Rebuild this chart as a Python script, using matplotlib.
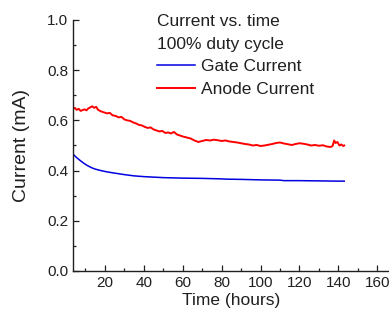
import matplotlib
matplotlib.use("Agg")
import matplotlib.pyplot as plt
from matplotlib.ticker import MultipleLocator

plt.rcParams['font.family'] = ['Liberation Sans', 'DejaVu Sans']

# anode current (mA) vs time (hours)
anode_t = [3.6, 4.5, 5.5, 6.5, 7.5, 8.5, 9.5, 10.5, 11.5, 12.5, 13.5, 14.5, 15.5, 16.5,
           18, 19.5, 21, 22.5, 24, 25.5, 27, 28.5, 30, 31.5, 33, 34.5, 36, 37.5, 39,
           40.5, 42, 43.5, 45, 46.5, 48, 49.5, 51, 52.5, 54, 55.5, 57, 58.5, 60, 62,
           64, 66, 68, 70, 72, 74, 76, 78, 80, 82, 84, 86, 88, 90, 92, 94, 96, 98,
           100, 102, 104, 106, 108, 110, 112, 114, 116, 118, 120, 122, 124, 126, 128,
           130, 132, 134, 136, 137, 137.8, 138.5, 139.5, 140.5, 141.5, 142.5, 143]
anode_v = [0.645, 0.650, 0.642, 0.646, 0.638, 0.641, 0.644, 0.640, 0.648, 0.652, 0.656, 0.650,
           0.654, 0.642, 0.636, 0.632, 0.628, 0.630, 0.620, 0.618, 0.612, 0.614, 0.604, 0.600,
           0.598, 0.592, 0.588, 0.582, 0.580, 0.574, 0.570, 0.572, 0.564, 0.560, 0.556, 0.558,
           0.550, 0.552, 0.548, 0.554, 0.544, 0.540, 0.536, 0.532, 0.528, 0.520, 0.514, 0.518,
           0.522, 0.520, 0.523, 0.521, 0.518, 0.520, 0.516, 0.514, 0.512, 0.509, 0.506,
           0.504, 0.500, 0.502, 0.498, 0.500, 0.503, 0.506, 0.510, 0.512, 0.508, 0.505, 0.502,
           0.506, 0.509, 0.507, 0.504, 0.500, 0.502, 0.499, 0.501, 0.496, 0.494, 0.498, 0.520,
           0.510, 0.514, 0.500, 0.504, 0.498, 0.500]

# gate current (mA) vs time (hours)
gate_t = [3.6, 5, 7, 9, 11, 13, 15, 18, 21, 25, 30, 35, 40, 45, 50, 55, 60, 70, 80,
          82, 90, 100, 110, 112, 120, 130, 140, 143]
gate_v = [0.466, 0.455, 0.442, 0.430, 0.420, 0.412, 0.406, 0.400, 0.395, 0.390, 0.384,
          0.379, 0.376, 0.374, 0.372, 0.371, 0.370, 0.369, 0.367, 0.366, 0.365, 0.363,
          0.362, 0.360, 0.360, 0.359, 0.358, 0.358]

fig = plt.figure(figsize=(3.89, 3.19), dpi=100)
ax = fig.add_axes([73/389, 1 - 271/319, 1 - 73/389, (271 - 20)/319])

ax.plot(gate_t, gate_v, color='#0000e0', lw=1.1, label='Gate Current')
ax.plot(anode_t, anode_v, color='#ff0000', lw=1.4, label='Anode Current')

ax.set_xlim(3.6, 166)
ax.set_ylim(0, 1.0)
ax.xaxis.set_major_locator(MultipleLocator(20))
ax.xaxis.set_minor_locator(MultipleLocator(10))
ax.yaxis.set_major_locator(MultipleLocator(0.2))
ax.yaxis.set_minor_locator(MultipleLocator(0.1))
ax.yaxis.set_major_formatter(plt.FormatStrFormatter('%.1f'))
ax.tick_params(which='both', direction='in', labelsize=11, colors='#202020')
ax.tick_params(which='major', length=4, width=0.9)
ax.tick_params(which='minor', length=2.5, width=0.9)
for s in ['top', 'right']:
    ax.spines[s].set_visible(False)
for s in ['left', 'bottom']:
    ax.spines[s].set_linewidth(1.0)
    ax.spines[s].set_color('#202020')

ax.set_xlabel('Time (hours)', fontsize=12.5, color='#202020', labelpad=2)
ax.set_ylabel('Current (mA)', fontsize=14, color='#202020', labelpad=12)

fig.text(157/389, 1 - 21/319, 'Current vs. time', fontsize=12.5, color='#202020', va='center')
fig.text(157/389, 1 - 44/319, '100% duty cycle', fontsize=12.5, color='#202020', va='center')
ax.legend(loc='upper left', bbox_to_anchor=(157/389, 1 - 59/319),
          bbox_transform=fig.transFigure, frameon=False, fontsize=12.5,
          handlelength=2.2, handletextpad=0.35, labelspacing=0.42,
          borderpad=0, borderaxespad=0, labelcolor='#202020')

fig.savefig('out.png', dpi=100)
